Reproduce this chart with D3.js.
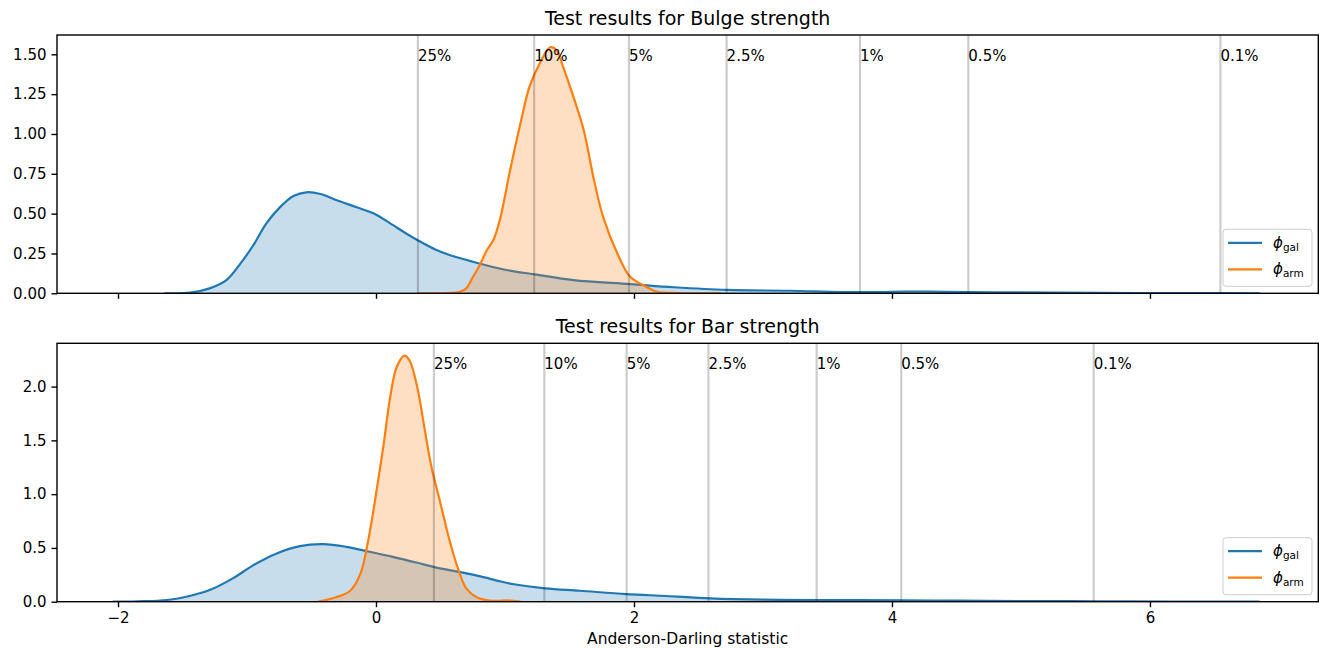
<!DOCTYPE html>
<html>
<head>
<meta charset="utf-8">
<script src="https://cdn.jsdelivr.net/npm/d3@7"></script>
<style>
  html, body { margin: 0; padding: 0; background: #fff; }
  svg { display: block; font-family: "DejaVu Sans", sans-serif; }
</style>
</head>
<body>
<svg id="chart" width="1320" height="648"></svg>
<script>
// ---------------- data ----------------
const titles = ["Test results for Bulge strength", "Test results for Bar strength"];
const xLabel = "Anderson-Darling statistic";
const levelLabels = ["25%", "10%", "5%", "2.5%", "1%", "0.5%", "0.1%"];
const critTop = [0.325, 1.226, 1.961, 2.718, 3.752, 4.592, 6.546];
const critBottom = [0.449, 1.305, 1.943, 2.577, 3.416, 4.072, 5.564];
const xTicks = [-2, 0, 2, 4, 6];
const yTicksTop = [0, 0.25, 0.5, 0.75, 1.0, 1.25, 1.5];
const yTicksBottom = [0, 0.5, 1.0, 1.5, 2.0];

const topGalX = [-1.64, -1.44, -1.29, -1.16, -1.05, -0.95, -0.85, -0.74, -0.64, -0.54, -0.43, -0.31, -0.15, -0.02, 0.11, 0.24, 0.33, 0.46, 0.57, 0.75, 1.01, 1.23, 1.53, 1.97, 2.31, 2.72, 3.21, 3.60, 3.90, 4.10, 4.40, 4.80, 5.30, 5.90, 6.40, 6.85];
const topGalY = [0.000, 0.004, 0.031, 0.083, 0.188, 0.303, 0.439, 0.544, 0.611, 0.634, 0.623, 0.586, 0.540, 0.502, 0.439, 0.372, 0.330, 0.275, 0.240, 0.198, 0.146, 0.119, 0.083, 0.058, 0.038, 0.021, 0.016, 0.008, 0.008, 0.011, 0.009, 0.006, 0.004, 0.002, 0.001, 0.000];
const topArmX = [0.33, 0.55, 0.65, 0.70, 0.75, 0.80, 0.86, 0.91, 0.96, 1.04, 1.12, 1.19, 1.27, 1.35, 1.40, 1.45, 1.53, 1.61, 1.69, 1.76, 1.87, 1.97, 2.07, 2.18, 2.35, 2.67];
const topArmY = [0.000, 0.002, 0.010, 0.031, 0.100, 0.170, 0.272, 0.335, 0.460, 0.774, 1.067, 1.297, 1.444, 1.544, 1.527, 1.422, 1.234, 1.025, 0.711, 0.481, 0.251, 0.104, 0.052, 0.010, 0.002, 0.000];

const botGalX = [-2.04, -1.85, -1.62, -1.47, -1.29, -1.11, -0.95, -0.77, -0.59, -0.41, -0.23, -0.05, 0.13, 0.32, 0.46, 0.70, 0.81, 0.96, 1.07, 1.31, 1.58, 1.94, 2.25, 2.59, 3.00, 3.42, 4.09, 4.50, 5.00, 5.60, 6.20, 6.85];
const botGalY = [0.000, 0.004, 0.016, 0.046, 0.108, 0.217, 0.340, 0.449, 0.517, 0.535, 0.510, 0.464, 0.417, 0.362, 0.319, 0.263, 0.235, 0.190, 0.162, 0.124, 0.102, 0.071, 0.053, 0.031, 0.019, 0.016, 0.013, 0.010, 0.006, 0.004, 0.002, 0.000];
const botArmX = [-0.45, -0.31, -0.20, -0.12, -0.06, 0.005, 0.06, 0.11, 0.16, 0.22, 0.26, 0.32, 0.37, 0.43, 0.50, 0.57, 0.64, 0.70, 0.78, 0.88, 0.95, 1.01, 1.12];
const botArmY = [0.000, 0.041, 0.102, 0.263, 0.572, 1.036, 1.469, 1.902, 2.180, 2.288, 2.242, 1.994, 1.655, 1.252, 0.913, 0.572, 0.294, 0.124, 0.041, 0.010, 0.008, 0.012, 0.000];

const seriesNames = [["ϕ", "gal"], ["ϕ", "arm"]];
const colors = ["#1f77b4", "#ff7f0e"];

// ---------------- layout ----------------
const svg = d3.select("#chart");
const L = 57, R = 1318.3;
const panels = [
  { top: 35, bottom: 293.3, title: titles[0], gal: [topGalX, topGalY], arm: [topArmX, topArmY], crit: critTop, yTicks: yTicksTop, fmt: d3.format(".2f"), showX: false },
  { top: 343.3, bottom: 601.7, title: titles[1], gal: [botGalX, botGalY], arm: [botArmX, botArmY], crit: critBottom, yTicks: yTicksBottom, fmt: d3.format(".1f"), showX: true }
];

const x = d3.scaleLinear().domain([-2.473, 7.305]).range([L, R]);
const FS = 15;

panels.forEach(p => {
  const series = [p.gal, p.arm].map(([xs, ys]) => xs.map((v, i) => [v, ys[i]]));
  const ymax = d3.max(series.flat(), d => d[1]) * 1.05;
  const y = d3.scaleLinear().domain([0, ymax]).range([p.bottom, p.top]);
  const g = svg.append("g");

  const clipId = "clip" + Math.round(p.top);
  svg.append("clipPath").attr("id", clipId).append("rect")
    .attr("x", L).attr("y", p.top).attr("width", R - L).attr("height", p.bottom - p.top);

  const plot = g.append("g").attr("clip-path", `url(#${clipId})`);
  const crv = d3.curveCatmullRom.alpha(0.5);
  const area = d3.area().x(d => x(d[0])).y0(y(0)).y1(d => Math.min(y(d[1]), y(0))).curve(crv);
  const line = d3.line().x(d => x(d[0])).y(d => y(d[1])).curve(crv);

  series.forEach((s, i) => {
    plot.append("path").attr("d", area(s)).attr("fill", colors[i]).attr("fill-opacity", 0.25);
    plot.append("path").attr("d", line(s)).attr("fill", "none").attr("stroke", colors[i])
      .attr("stroke-width", 2.2).attr("stroke-linejoin", "round");
  });

  // critical value lines
  p.crit.forEach((c, i) => {
    plot.append("line").attr("x1", x(c)).attr("x2", x(c)).attr("y1", p.top).attr("y2", p.bottom)
      .attr("stroke", "#000").attr("stroke-opacity", 0.2).attr("stroke-width", 2.2);
    g.append("text").attr("x", x(c)).attr("y", y(0.9 * ymax)).attr("font-size", FS)
      .attr("fill", "#000").text(levelLabels[i]);
  });

  // frame
  g.append("rect").attr("x", L).attr("y", p.top).attr("width", R - L).attr("height", p.bottom - p.top)
    .attr("fill", "none").attr("stroke", "#000").attr("stroke-width", 1.4);

  // y axis
  const yAxis = d3.axisLeft(y).tickValues(p.yTicks).tickFormat(p.fmt).tickSizeOuter(0).tickSize(5.5).tickPadding(5);
  const ya = g.append("g").attr("transform", `translate(${L},0)`).call(yAxis);
  ya.select(".domain").remove();
  ya.selectAll("line").attr("stroke-width", 1.4);
  ya.selectAll("text").attr("font-size", FS).attr("font-family", "DejaVu Sans").attr("fill", "#000");

  // x axis
  const xAxis = d3.axisBottom(x).tickValues(xTicks).tickFormat(p.showX ? (d => d < 0 ? "\u2212" + Math.abs(d) : d) : () => "")
    .tickSizeOuter(0).tickSize(5.5).tickPadding(5);
  const xa = g.append("g").attr("transform", `translate(0,${p.bottom})`).call(xAxis);
  xa.select(".domain").remove();
  xa.selectAll("line").attr("stroke-width", 1.4);
  xa.selectAll("text").attr("font-size", FS).attr("font-family", "DejaVu Sans").attr("fill", "#000");

  // title
  g.append("text").attr("x", (L + R) / 2).attr("y", p.top - 10).attr("text-anchor", "middle")
    .attr("font-size", 19).attr("fill", "#000").text(p.title);

  // legend
  const lw = 89, lh = 57;
  const lx = 1223, ly = p.bottom - 7 - lh;
  const lg = g.append("g");
  lg.append("rect").attr("x", lx).attr("y", ly).attr("width", lw).attr("height", lh).attr("rx", 3)
    .attr("fill", "#fff").attr("fill-opacity", 0.8).attr("stroke", "#cccccc").attr("stroke-width", 1);
  seriesNames.forEach((nm, i) => {
    const yy = ly + 13.5 + i * 26.5;
    lg.append("line").attr("x1", lx + 5).attr("x2", lx + 39).attr("y1", yy).attr("y2", yy)
      .attr("stroke", colors[i]).attr("stroke-width", 2.2);
    const t = lg.append("text").attr("x", lx + 50).attr("y", yy + 5).attr("font-size", FS).attr("fill", "#000");
    t.append("tspan").attr("font-style", "italic").text(nm[0]);
    t.append("tspan").attr("font-size", FS * 0.7).attr("dy", 3).text(nm[1]);
  });
});

// x label
svg.append("text").attr("x", (L + R) / 2).attr("y", 644).attr("text-anchor", "middle")
  .attr("font-size", 15.5).attr("fill", "#000").text(xLabel);
</script>
</body>
</html>
